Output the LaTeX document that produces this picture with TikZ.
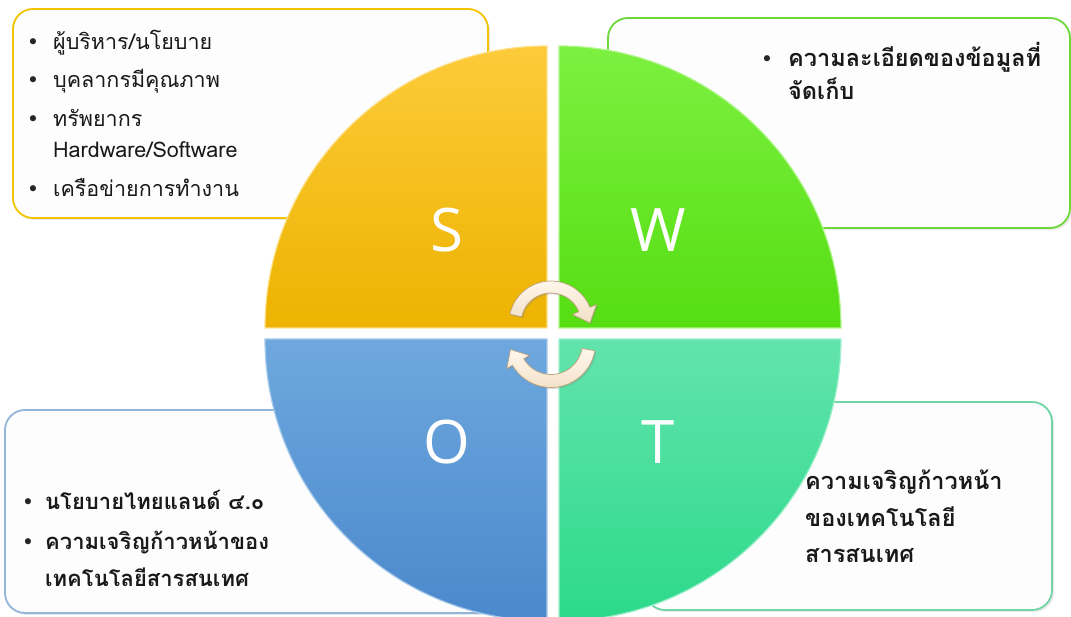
\documentclass[tikz,border=0pt]{standalone}
\usepackage{fontspec}
\newfontfamily\thai[Script=Thai]{Loma}
\newfontfamily\bul{DejaVu Sans}
\newfontfamily\letfont{Open Sans}
\usetikzlibrary{arrows.meta,shadows}
\definecolor{boxfill}{HTML}{FDFDFD}
\definecolor{sborder}{HTML}{F3C300}
\definecolor{wborder}{HTML}{6ED83A}
\definecolor{oborder}{HTML}{93B5DA}
\definecolor{tborder}{HTML}{6FD5A5}
\definecolor{stop}{HTML}{FDCB3A}
\definecolor{sbot}{HTML}{EDB300}
\definecolor{wtop}{HTML}{7DF040}
\definecolor{wbot}{HTML}{55DE12}
\definecolor{otop}{HTML}{6EA8DE}
\definecolor{obot}{HTML}{4B88CC}
\definecolor{ttop}{HTML}{62E4AC}
\definecolor{tbot}{HTML}{2CD98B}
\definecolor{cream}{HTML}{FFF8EE}
\definecolor{creamdark}{HTML}{F3E0C6}
\definecolor{tan}{HTML}{BFA07A}
\begin{document}
\begin{tikzpicture}[x=1pt,y=1pt,
  box/.style={draw, line width=1.8pt, rounded corners=20pt, fill=boxfill,
    drop shadow={shadow xshift=2pt, shadow yshift=-2pt, opacity=0.18}},
  txt/.style={anchor=base west, inner sep=0pt, font=\thai\fontsize{21.5}{25}\selectfont, text=black!90},
  txtb/.style={anchor=base west, inner sep=0pt, font=\thai\bfseries\fontsize{23.5}{27}\selectfont, text=black!90},
  txto/.style={anchor=base west, inner sep=0pt, font=\thai\bfseries\fontsize{22}{26}\selectfont, text=black!90},
  bul/.style={anchor=base, inner sep=0pt, font=\bul\fontsize{21}{24}\selectfont, text=black!85},
  letter/.style={font=\letfont\fontsize{60}{60}\selectfont, text=white, inner sep=0pt},
  quad/.style={line width=1.2pt},
  arr/.style={draw=tan, line width=0.7pt, top color=cream, bottom color=creamdark,
    drop shadow={shadow xshift=1.5pt, shadow yshift=-1.5pt, opacity=0.25}}
]
\clip (0,0) rectangle (1071,617);
\fill[white] (0,0) rectangle (1071,617);

% text boxes
\node[box, draw=sborder, minimum width=475pt, minimum height=209pt] (sbox) at (250.5,503.5) {};
\node[box, draw=wborder, minimum width=462pt, minimum height=210pt] (wbox) at (839,494) {};
\node[box, draw=oborder, minimum width=535pt, minimum height=203pt] (obox) at (272.5,105.5) {};
\node[box, draw=tborder, minimum width=407pt, minimum height=208pt] (tbox) at (848.5,111) {};

% quadrants
\shade[top color=stop, bottom color=sbot] (547,289) -- (547,571) arc (90:180:282) -- cycle;
\draw[quad, draw=stop!60!white] (547,289) -- (547,571) arc (90:180:282) -- cycle;
\shade[top color=wtop, bottom color=wbot] (559,289) -- (841,289) arc (0:90:282) -- cycle;
\draw[quad, draw=wtop!60!white] (559,289) -- (841,289) arc (0:90:282) -- cycle;
\shade[top color=otop, bottom color=obot] (547,278) -- (265,278) arc (180:270:282) -- cycle;
\draw[quad, draw=otop!60!white] (547,278) -- (265,278) arc (180:270:282) -- cycle;
\shade[top color=ttop, bottom color=tbot] (559,278) -- (559,-4) arc (270:360:282) -- cycle;
\draw[quad, draw=ttop!60!white] (559,278) -- (559,-4) arc (270:360:282) -- cycle;

% letters
\node[letter] (S) at (447,387) {S};
\node[letter] (W) at (658,387) {W};
\node[letter] (O) at (447,175) {O};
\node[letter] (T) at (658,175) {T};

% cycle arrows
\begin{scope}[shift={(551,294)}]
\path[arr] (168:42) arc (168:22:42) -- (22:49) -- (39,0) -- (22:23) -- (22:30) arc (22:168:30) -- cycle;
\end{scope}
\begin{scope}[shift={(551,274)}]
\path[arr] (-10:44.5) arc (-10:-150:44.5) -- (-150:51) -- (-40.5,-6.5) -- (-150:25) -- (-150:31.5) arc (-150:-10:31.5) -- cycle;
\end{scope}

% S text
\node[bul] (sb1) at (33,567) {•};
\node[txt] (s1) at (53,567) {ผู้บริหาร/นโยบาย};
\node[bul] (sb2) at (33,529) {•};
\node[txt] (s2) at (53,529) {บุคลากรมีคุณภาพ};
\node[bul] (sb3) at (33,490) {•};
\node[txt] (s3) at (53,490) {ทรัพยากร};
\node[txt] (s4) at (53,459) {Hardware/Software};
\node[bul] (sb5) at (33,420) {•};
\node[txt] (s5) at (53,420) {เครือข่ายการทำงาน};

% W text
\node[bul] (wb1) at (767,550) {•};
\node[txtb] (w1) at (788,550) {ความละเอียดของข้อมูลที่};
\node[txtb] (w2) at (788,517) {จัดเก็บ};

% O text
\node[bul] (ob1) at (28,107) {•};
\node[txto] (o1) at (45,107) {นโยบายไทยแลนด์ ๔.๐};
\node[bul] (ob2) at (28,67) {•};
\node[txto] (o2) at (45,67) {ความเจริญก้าวหน้าของ};
\node[txto] (o3) at (45,30) {เทคโนโลยีสารสนเทศ};

% T text
\node[txtb] (t1) at (805,127) {ความเจริญก้าวหน้า};
\node[txtb] (t2) at (805,90) {ของเทคโนโลยี};
\node[txtb] (t3) at (805,54) {สารสนเทศ};
\end{tikzpicture}
\end{document}
